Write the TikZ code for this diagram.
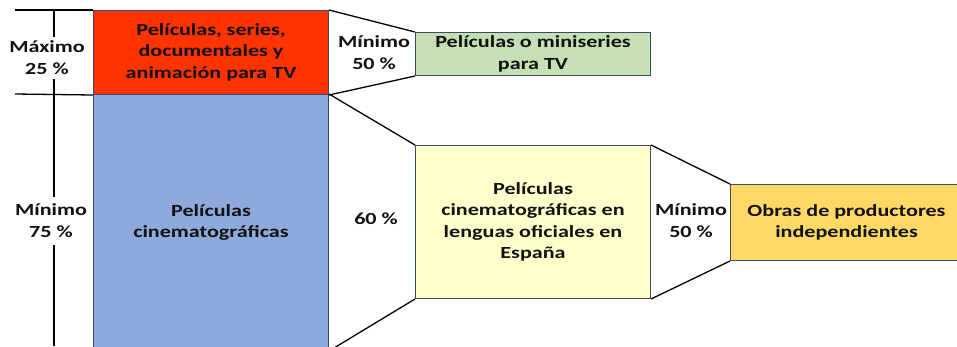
\documentclass[tikz,border=0pt]{standalone}
\usepackage{fontspec}
\setmainfont{Carlito}[BoldFont={Carlito Bold}]
\definecolor{cred}{HTML}{FF3300}
\definecolor{cblue}{HTML}{8EA9DB}
\definecolor{cgreen}{HTML}{C5E0B4}
\definecolor{cyellow}{HTML}{FFFFCC}
\definecolor{corange}{HTML}{FFD966}
\definecolor{cborder}{HTML}{3A4A68}
\definecolor{ctext}{HTML}{111111}
\newcommand{\sx}[1]{\scalebox{1.3}[1]{\begin{tabular}{@{}c@{}}#1\end{tabular}}}
\tikzset{
  box/.style={draw=cborder, line width=1pt, rectangle, anchor=north west, align=center, text=ctext, inner sep=0pt},
  lbl/.style={align=center, text=ctext, inner sep=0pt},
  conn/.style={draw=black, line width=1.3pt},
}
\begin{document}
\begin{tikzpicture}[x=1pt,y=-1pt, font=\bfseries\fontsize{17}{21.5}\selectfont]
\useasboundingbox (0,0) rectangle (957,346);
\clip (0,0) rectangle (957,346);
% boxes
\node[box, fill=cred, minimum width=235pt, minimum height=84pt] (tv) at (93,10)
  {\raisebox{-2pt}{\sx{Películas, series,\\documentales y\\animación para TV}}};
\node[box, fill=cblue, minimum width=235pt, minimum height=256pt] (cine) at (93,94)
  {\sx{Películas\\cinematográficas}};
\node[box, fill=cgreen, minimum width=235pt, minimum height=43pt] (green) at (415,32)
  {\sx{Películas o miniseries\\para TV}};
\node[box, fill=cyellow, minimum width=235pt, minimum height=153pt] (yellow) at (415,145)
  {\sx{Películas\\cinematográficas en\\lenguas oficiales en\\España}};
\node[box, fill=corange, minimum width=232pt, minimum height=76pt] (orange) at (730,184)
  {\sx{Obras de productores\\independientes}};
% labels
\node[lbl] (maxl) at (47,59) {\sx{Máximo\\25 \%}};
\node[lbl] (minl) at (51,222) {\sx{Mínimo\\75 \%}};
\node[lbl] (m50a) at (374,54) {\sx{Mínimo\\50 \%}};
\node[lbl] (p60) at (376,220) {\sx{60 \%}};
\node[lbl] (m50b) at (691,222) {\sx{Mínimo\\50 \%}};
% left rulers
\coordinate (h1) at (15,10);
\coordinate (h2) at (15,94);
\coordinate (vtop) at (54,10);
\coordinate (vbot) at (54,346);
\coordinate (g1) at (54,37);
\coordinate (g2) at (54,79);
\coordinate (g3) at (54,197);
\coordinate (g4) at (54,245);
\draw[conn] (h1) -- (tv.north west);
\draw[conn] (h2) -- (tv.south west);
\draw[conn] (vtop) -- (g1);
\draw[conn] (g2) -- (g3);
\draw[conn] (g4) -- (vbot);
% connectors
\draw[conn] (tv.north east) -- (green.north west);
\draw[conn] (tv.south east) -- (green.south west);
\draw[conn] (cine.north east) -- (yellow.north west);
\draw[conn] (cine.south east) -- (yellow.south west);
\draw[conn] (yellow.north east) -- (orange.north west);
\draw[conn] (yellow.south east) -- (orange.south west);
\end{tikzpicture}
\end{document}
